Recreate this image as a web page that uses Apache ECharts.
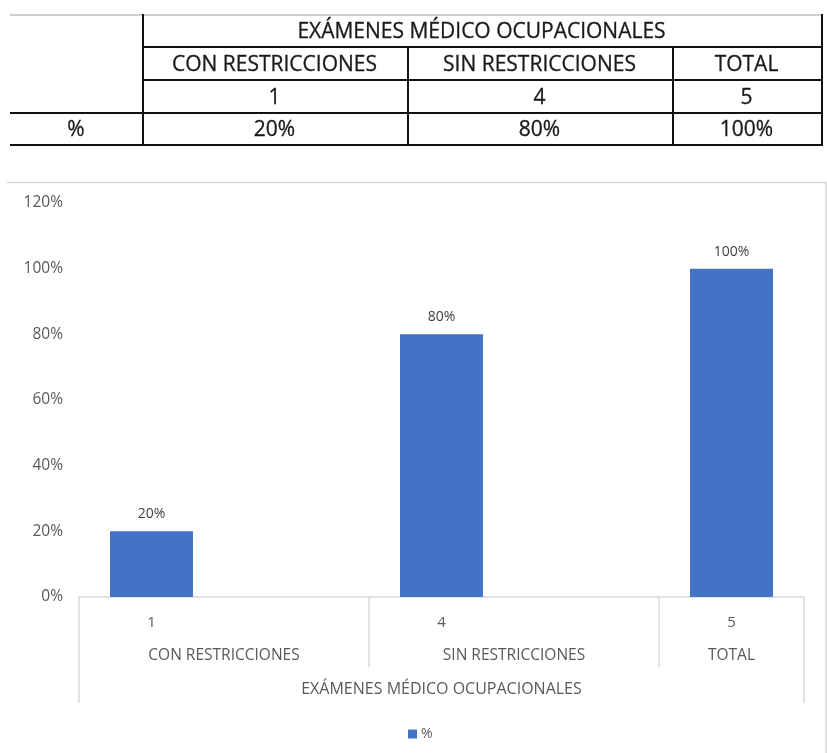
<!DOCTYPE html>
<html><head><meta charset="utf-8">
<script src="https://cdn.jsdelivr.net/npm/echarts@6.0.0/dist/echarts.min.js"></script>
<style>
html,body{margin:0;padding:0;background:#fff;}
#wrap{position:relative;width:827px;height:753px;overflow:hidden;}
#chart{position:absolute;left:0;top:0;width:827px;height:753px;}
#table{position:absolute;left:0;top:0;width:827px;height:160px;}
.ln{position:absolute;background:#111;}
.tx{position:absolute;display:flex;align-items:center;justify-content:center;font-family:"Open Sans",sans-serif;font-size:21px;color:#1a1a1a;white-space:nowrap;-webkit-text-stroke:0.3px #1a1a1a;}
</style></head>
<body><div id="wrap"><div id="chart"></div><div id="table"></div></div>
<script>
// ---- data ----
const groupTitle = 'EXÁMENES MÉDICO OCUPACIONALES';
const categories = ['CON RESTRICCIONES', 'SIN RESTRICCIONES', 'TOTAL'];
const counts = [1, 4, 5];
const percents = [0.20, 0.80, 1.00];
const rowLabel = '%';
const seriesName = '%';
const yTickLabels = ['0%', '20%', '40%', '60%', '80%', '100%', '120%'];

const pct = v => Math.round(v * 100) + '%';

// ---- table (HTML) ----
const T = document.getElementById('table');
function line(x, y, w, h, color) {
  const d = document.createElement('div'); d.className = 'ln';
  d.style.left = x + 'px'; d.style.top = y + 'px'; d.style.width = w + 'px'; d.style.height = h + 'px';
  if (color) d.style.background = color;
  T.appendChild(d);
}
function text(s, x0, x1, y0, y1) {
  const d = document.createElement('div'); d.className = 'tx';
  d.style.left = x0 + 'px'; d.style.width = (x1 - x0) + 'px';
  d.style.top = y0 + 'px'; d.style.height = (y1 - y0) + 'px';
  d.textContent = s; T.appendChild(d);
}
const colX = [10, 142, 407, 672, 821];
const rowY = [14, 46, 79, 112, 144];
line(colX[0], rowY[0], colX[4] - colX[0], 2, '#cfcfcf');
line(colX[1], rowY[0], 2, rowY[4] - rowY[0] + 2);
line(colX[4], rowY[0], 2, rowY[4] - rowY[0] + 2);
line(colX[2], rowY[1], 2, rowY[4] - rowY[1] + 2);
line(colX[3], rowY[1], 2, rowY[4] - rowY[1] + 2);
line(colX[1], rowY[1], colX[4] - colX[1] + 2, 2);
line(colX[1], rowY[2], colX[4] - colX[1] + 2, 2);
line(colX[0], rowY[3], colX[4] - colX[0] + 2, 2);
line(colX[0], rowY[4], colX[4] - colX[0] + 2, 2);
text(groupTitle, colX[1], colX[4], rowY[0], rowY[1]);
categories.forEach((c, i) => text(c, colX[i + 1], colX[i + 2], rowY[1], rowY[2]));
counts.forEach((c, i) => text(String(c), colX[i + 1], colX[i + 2], rowY[2], rowY[3]));
text(rowLabel, colX[0], colX[1], rowY[3], rowY[4]);
percents.forEach((p, i) => text(pct(p), colX[i + 1], colX[i + 2], rowY[3], rowY[4]));

// ---- chart ----
const xMin = -0.25, xMax = categories.length - 0.75;
const edges = [xMin].concat(categories.slice(0, -1).map((_, i) => i + 0.75), [xMax]);
const mids = edges.slice(0, -1).map((e, i) => (e + edges[i + 1]) / 2);
const nearest = (arr, v) => { let b = 0; arr.forEach((a, i) => { if (Math.abs(a - v) < Math.abs(arr[b] - v)) b = i; }); return b; };
const axisGrey = '#d9d9d9';
const labelGrey = '#595959';
const chartFont = '"Open Sans", sans-serif';

const chart = echarts.init(document.getElementById('chart'), null, { renderer: 'canvas' });
chart.setOption({
  animation: false,
  backgroundColor: 'transparent',
  graphic: [
    { type: 'line', shape: { x1: 7, y1: 182.5, x2: 827, y2: 182.5 }, style: { stroke: axisGrey, lineWidth: 1.5 } },
    { type: 'line', shape: { x1: 826, y1: 182, x2: 826, y2: 753 }, style: { stroke: axisGrey, lineWidth: 1.5 } }
  ],
  grid: { left: 79, right: 23, top: 203, bottom: 156, containLabel: false },
  legend: {
    data: [seriesName], top: 722, left: 403,
    icon: 'rect', itemWidth: 9, itemHeight: 9, itemGap: 4,
    textStyle: { color: labelGrey, fontSize: 14, fontFamily: chartFont, padding: [0, 0, 0, -1] }
  },
  xAxis: [
    {
      type: 'value', min: xMin, max: xMax, position: 'bottom',
      axisLine: { show: true, onZero: false, lineStyle: { color: axisGrey, width: 1.5 } },
      splitLine: { show: false },
      axisTick: { show: true, customValues: [edges[0], edges[edges.length - 1]], length: 106, lineStyle: { color: axisGrey, width: 1.5 } },
      axisLabel: {
        customValues: categories.map((_, i) => i),
        formatter: v => String(counts[Math.round(v)]),
        margin: 18, color: labelGrey, fontSize: 15, fontFamily: chartFont
      }
    },
    {
      type: 'value', min: xMin, max: xMax, position: 'bottom',
      axisLine: { show: false },
      splitLine: { show: false },
      axisTick: { show: true, customValues: edges.slice(1, -1), length: 70, lineStyle: { color: axisGrey, width: 1.5 } },
      axisLabel: {
        customValues: mids,
        formatter: v => categories[nearest(mids, v)],
        margin: 51, color: labelGrey, fontSize: 15.5, fontFamily: chartFont
      },
      name: groupTitle, nameLocation: 'middle', nameGap: 84,
      nameTextStyle: { color: labelGrey, fontSize: 16, fontFamily: chartFont }
    }
  ],
  yAxis: {
    type: 'value', min: 0, max: 1.2, interval: 0.2,
    axisLine: { show: false }, axisTick: { show: false }, splitLine: { show: false },
    axisLabel: { formatter: v => yTickLabels[Math.round(v / 0.2)], color: labelGrey, fontSize: 15.5, fontFamily: chartFont, margin: 16 }
  },
  series: [{
    name: seriesName, type: 'bar', xAxisIndex: 0,
    data: percents.map((p, i) => [i, p]),
    barWidth: 83,
    itemStyle: { color: '#4472C4' },
    label: { show: true, position: 'top', distance: 10, formatter: p => pct(p.value[1]), color: '#404040', fontSize: 14, fontFamily: chartFont }
  }]
});
</script></body></html>
